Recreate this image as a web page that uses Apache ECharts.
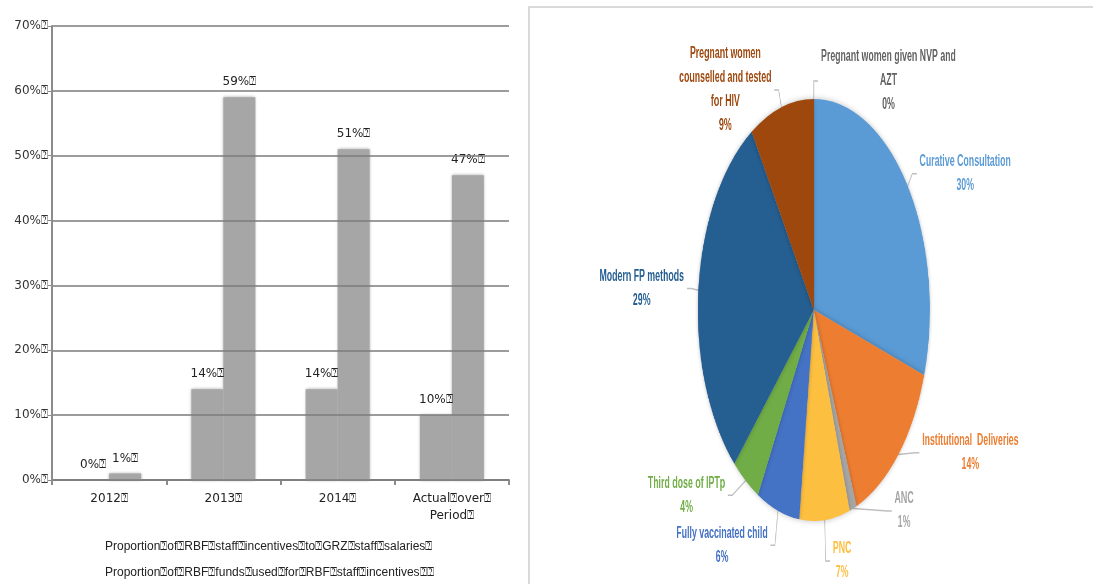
<!DOCTYPE html>
<html>
<head>
<meta charset="utf-8">
<script src="https://cdn.jsdelivr.net/npm/echarts@6/dist/echarts.min.js"></script>
<style>
  html, body { margin: 0; padding: 0; background: #fff; }
  #bars { position: absolute; left: 0; top: 0; width: 528px; height: 584px; }
  #right { position: absolute; left: 528px; top: 6px; width: 565px; height: 578px;
           border-left: 2px solid #dadada; border-top: 2px solid #dadada; overflow: hidden; }
  #pie { position: absolute; left: 0; top: 0; width: 1025px; height: 578px;
         transform: scaleX(0.55); transform-origin: 0 0; }
</style>
</head>
<body>
<div id="bars"></div>
<div id="right"><div id="pie"></div></div>
<script>
// left chart
var BOX = '\u2370';
var years = ['2012' + BOX, '2013' + BOX, '2014' + BOX, 'Actual' + BOX + 'over' + BOX + '\nPeriod' + BOX];
var seriesNames = [
  'Proportion' + BOX + 'of' + BOX + 'RBF' + BOX + 'staff' + BOX + 'incentives' + BOX + 'to' + BOX + 'GRZ' + BOX + 'staff' + BOX + 'salaries' + BOX,
  'Proportion' + BOX + 'of' + BOX + 'RBF' + BOX + 'funds' + BOX + 'used' + BOX + 'for' + BOX + 'RBF' + BOX + 'staff' + BOX + 'incentives' + BOX + BOX
];
var incentivesToSalaries = [0, 14, 14, 10];
var fundsForIncentives = [1, 59, 51, 47];

// right chart
var services = [
  'Curative Consultation',
  'Institutional  Deliveries',
  'ANC',
  'PNC',
  'Fully vaccinated child',
  'Third dose of IPTp',
  'Modern FP methods',
  'Pregnant women\ncounselled and tested\nfor HIV',
  'Pregnant women given NVP and\nAZT'
];
var serviceShares = [30, 14, 1, 7, 6, 4, 29, 9, 0];
var serviceColors = ['#5b9bd5', '#ed7d31', '#a5a5a5', '#fdbf3f', '#4472c4', '#70ad47', '#255e91', '#9e480e', '#636363'];

var barChart = echarts.init(document.getElementById('bars'));
var grey = '#a6a6a6';
var barLabel = {
  show: true,
  position: 'top',
  distance: 9,
  color: '#222',
  fontSize: 12,
  fontFamily: 'DejaVu Sans',
  formatter: function (p) { return p.value + '%' + BOX; }
};
barChart.setOption({
  animation: false,
  textStyle: { fontFamily: 'DejaVu Sans' },
  grid: { left: 52, top: 26, width: 457, height: 454 },
  legend: {
    orient: 'vertical',
    left: 100,
    top: 541,
    padding: 0,
    itemWidth: 0,
    itemHeight: 0,
    itemGap: 14,
    textStyle: { fontFamily: 'Liberation Sans', fontSize: 12, color: '#222' },
    data: seriesNames
  },
  xAxis: {
    type: 'category',
    data: years,
    axisLine: { lineStyle: { color: '#8c8c8c', width: 2 } },
    axisTick: { show: true, length: 5, lineStyle: { color: '#8c8c8c', width: 2 } },
    axisLabel: { color: '#222', fontSize: 12, margin: 10, lineHeight: 17 }
  },
  yAxis: {
    type: 'value',
    min: 0,
    max: 70,
    interval: 10,
    z: 5,
    axisLine: { show: true, lineStyle: { color: '#8c8c8c', width: 2 } },
    axisTick: { show: true, length: 4, lineStyle: { color: '#8c8c8c' } },
    axisLabel: { color: '#333', fontSize: 12, margin: 4, formatter: '{value}%' + BOX },
    splitLine: { lineStyle: { color: '#7b7b7b', width: 1.6 } }
  },
  series: [
    {
      name: seriesNames[0],
      type: 'bar',
      data: incentivesToSalaries,
      barWidth: 32,
      barGap: '0%',
      itemStyle: { color: grey, shadowColor: grey, shadowBlur: 3 },
      label: barLabel
    },
    {
      name: seriesNames[1],
      type: 'bar',
      data: fundsForIncentives,
      barWidth: 32,
      barGap: '0%',
      itemStyle: { color: grey, shadowColor: grey, shadowBlur: 3 },
      label: barLabel
    }
  ]
});

var pieChart = echarts.init(document.getElementById('pie'));
var pieData = [];
for (var i = 0; i < services.length; i++) {
  pieData.push({ name: services[i], value: serviceShares[i] });
}
pieChart.setOption({
  animation: false,
  color: serviceColors,
  series: [{
    type: 'pie',
    center: [516, 302],
    radius: 211,
    startAngle: 90,
    clockwise: true,
    data: pieData,
    itemStyle: { shadowColor: 'rgba(0,0,0,0.25)', shadowBlur: 6 },
    label: {
      show: true,
      position: 'outside',
      fontFamily: 'Liberation Sans',
      fontWeight: 'bold',
      fontSize: 16,
      lineHeight: 24,
      color: 'inherit',
      formatter: function (p) { return p.name + '\n' + p.value + '%'; }
    },
    labelLine: { show: true, length: 18, length2: 8, lineStyle: { color: '#bfbfbf', width: 1.5 } },
    labelLayout: function (p) {
      var w = p.labelRect.width;
      return { align: 'center', dx: p.align === 'left' ? w / 2 : -w / 2 };
    }
  }]
});
</script>
</body>
</html>
